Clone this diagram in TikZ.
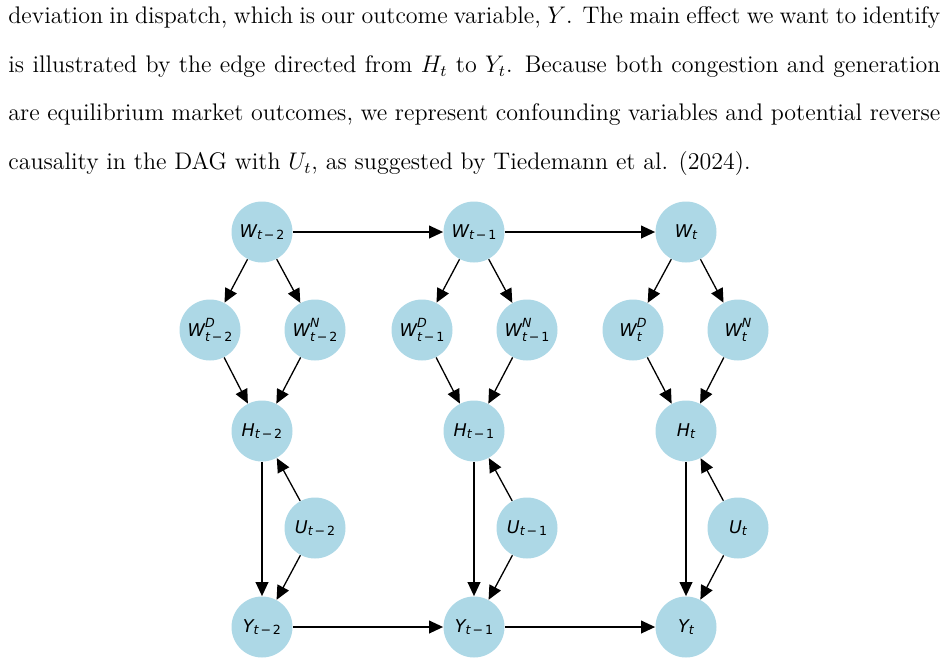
\documentclass[tikz,border=0pt]{standalone}
\usepackage{fontspec}
\usepackage{amsmath}
\usepackage{xcolor}
\usepackage{tikz}
\usetikzlibrary{arrows.meta}

\newfontfamily\dagfont{DejaVu Sans}
\definecolor{nodeblue}{RGB}{173,216,230}
\newcommand{\dagscr}{\dagfont\fontsize{6.3}{6.3}\selectfont\itshape}
\newcommand{\dagsub}[1]{\raisebox{-1.3pt}{\dagscr #1}}
\newcommand{\dagmin}[1]{\hspace{0.15em}{\upshape\char"2212}\hspace{0.15em}{\upshape #1}}
% variable with subscript only
\newcommand{\dagvar}[2]{{\itshape #1}\dagsub{#2}}
% variable with superscript and subscript
\newcommand{\dagvarx}[3]{{\itshape #1}\ooalign{\raisebox{4.4pt}{\dagscr #2}\cr\raisebox{-2.7pt}{\dagscr #3}}}

\begin{document}
\begin{tikzpicture}[x=0.5pt, y=-0.5pt, >={Triangle[length=7pt, width=6.4pt]},
    var/.style={circle, fill=nodeblue, minimum size=30.5pt, inner sep=0pt, font=\dagfont\fontsize{8.8}{10}\selectfont},
    link/.style={->, line width=0.65pt}]
 			\useasboundingbox (0,0) rectangle (948,665);
 			\node (para) [anchor=north west, inner sep=0pt, text width=466pt, align=justify, font=\fontsize{12}{24.25}\selectfont] at (8,6.7) {deviation in dispatch, which is our outcome variable, $Y$. The main effect we want to identify\linebreak is illustrated by the edge directed from $H_t$ to $Y_t$. Because both congestion and generation\linebreak are equilibrium market outcomes, we represent confounding variables and potential reverse\linebreak causality in the DAG with $U_t$, as suggested by Tiedemann et al. (2024).};
 			
 			% period t-2
 			\node (w2) [var] at (262,232) {\dagvar{W}{t\dagmin{2}}};
 			\node (wd2) [var] at (210,330) {\dagvarx{W}{D}{t\dagmin{2}}};
 			\node (wn2) [var] at (315,330) {\dagvarx{W}{N}{t\dagmin{2}}};
 			\node (h2) [var] at (262,431) {\dagvar{H}{t\dagmin{2}}};
 			\node (u2) [var] at (315,528) {\dagvar{U}{t\dagmin{2}}};
 			\node (y2) [var] at (262,627) {\dagvar{Y}{t\dagmin{2}}};
 			
 			% period t-1
 			\node (w1) [var] at (474,232) {\dagvar{W}{t\dagmin{1}}};
 			\node (wd1) [var] at (422,330) {\dagvarx{W}{D}{t\dagmin{1}}};
 			\node (wn1) [var] at (527,330) {\dagvarx{W}{N}{t\dagmin{1}}};
 			\node (h1) [var] at (474,431) {\dagvar{H}{t\dagmin{1}}};
 			\node (u1) [var] at (527,528) {\dagvar{U}{t\dagmin{1}}};
 			\node (y1) [var] at (474,627) {\dagvar{Y}{t\dagmin{1}}};
 			
 			% period t
 			\node (w0) [var] at (686,232) {\dagvar{W}{t}};
 			\node (wd0) [var] at (633,330) {\dagvarx{W}{D}{t}};
 			\node (wn0) [var] at (738,330) {\dagvarx{W}{N}{t}};
 			\node (h0) [var] at (686,431) {\dagvar{H}{t}};
 			\node (u0) [var] at (738,528) {\dagvar{U}{t}};
 			\node (y0) [var] at (686,627) {\dagvar{Y}{t}};
 			
 			\draw[link] (w2) -- (w1);
 			\draw[link] (w1) -- (w0);
 			\draw[link] (y2) -- (y1);
 			\draw[link] (y1) -- (y0);
 			
 			\draw[link] (w2) -- (wd2);
 			\draw[link] (w2) -- (wn2);
 			\draw[link] (wd2) -- (h2);
 			\draw[link] (wn2) -- (h2);
 			\draw[link] (h2) -- (y2);
 			\draw[link] (u2) -- (h2);
 			\draw[link] (u2) -- (y2);
 			
 			\draw[link] (w1) -- (wd1);
 			\draw[link] (w1) -- (wn1);
 			\draw[link] (wd1) -- (h1);
 			\draw[link] (wn1) -- (h1);
 			\draw[link] (h1) -- (y1);
 			\draw[link] (u1) -- (h1);
 			\draw[link] (u1) -- (y1);
 			
 			\draw[link] (w0) -- (wd0);
 			\draw[link] (w0) -- (wn0);
 			\draw[link] (wd0) -- (h0);
 			\draw[link] (wn0) -- (h0);
 			\draw[link] (h0) -- (y0);
 			\draw[link] (u0) -- (h0);
 			\draw[link] (u0) -- (y0);
 		\end{tikzpicture}
\end{document}
